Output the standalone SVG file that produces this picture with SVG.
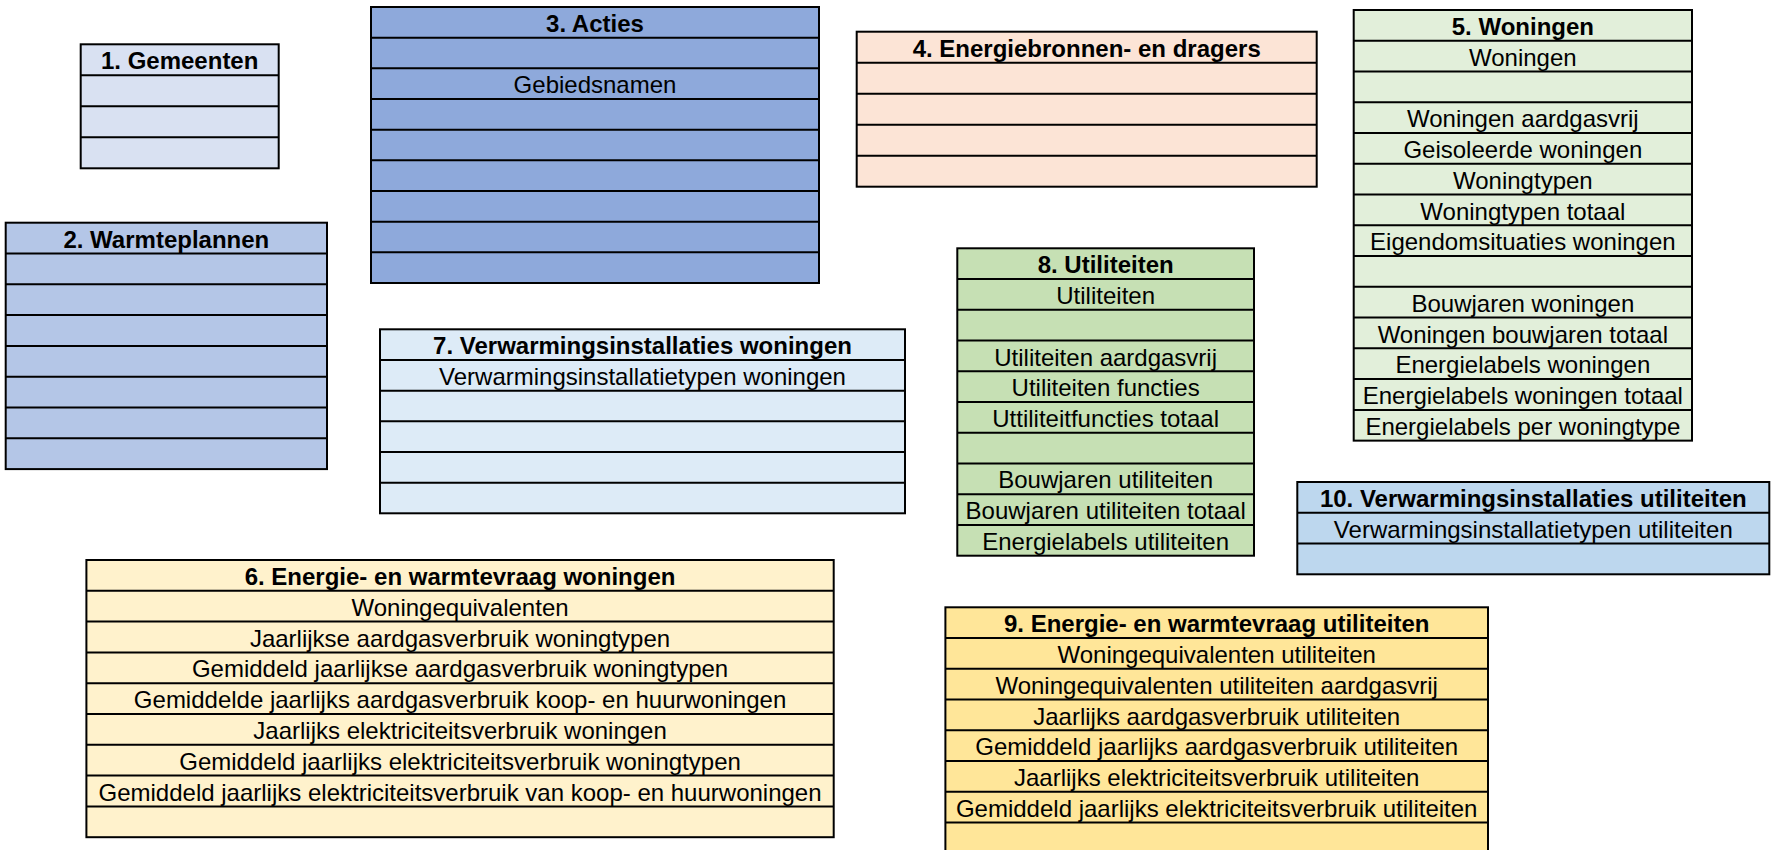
<svg xmlns="http://www.w3.org/2000/svg" width="1775" height="850" viewBox="0 0 1775 850">
<style>
.box{stroke:#000;stroke-width:2}
.sep{stroke:#000;stroke-width:2}
text{font-family:"Liberation Sans",Arial,sans-serif;font-size:24px;fill:#000;text-anchor:middle}
.t{font-weight:bold}
</style>
<rect x="0" y="0" width="1775" height="850" fill="#fff"/>
<g id="connectors"/>

<g id="n1">
<rect class="box" x="80.7" y="44.3" width="198" height="124" fill="#D9E1F2"/>
<path class="sep" d="M80.7 75.3H278.7M80.7 106.3H278.7M80.7 137.3H278.7"/>
<text class="t" x="179.7" y="69.3">1. Gemeenten</text>
</g>

<g id="n2">
<rect class="box" x="5.7" y="222.7" width="321.3" height="246.4" fill="#B4C6E7"/>
<path class="sep" d="M5.7 253.5H327M5.7 284.3H327M5.7 315.1H327M5.7 345.9H327M5.7 376.7H327M5.7 407.5H327M5.7 438.3H327"/>
<text class="t" x="166.35" y="247.7">2. Warmteplannen</text>
</g>

<g id="n3">
<rect class="box" x="371" y="7" width="448" height="276" fill="#8EA9DB"/>
<path class="sep" d="M371 37.7H819M371 68.3H819M371 99H819M371 129.7H819M371 160.3H819M371 191H819M371 221.7H819M371 252.3H819"/>
<text class="t" x="595" y="32">3. Acties</text>
<text x="595" y="93.3">Gebiedsnamen</text>
</g>

<g id="n4">
<rect class="box" x="856.7" y="31.7" width="460" height="155" fill="#FCE4D6"/>
<path class="sep" d="M856.7 62.7H1316.7M856.7 93.7H1316.7M856.7 124.7H1316.7M856.7 155.7H1316.7"/>
<text class="t" x="1086.7" y="56.7">4. Energiebronnen- en dragers</text>
</g>

<g id="n5">
<rect class="box" x="1353.7" y="10" width="338.3" height="430.64" fill="#E2EFDA"/>
<path class="sep" d="M1353.7 40.76H1692M1353.7 71.52H1692M1353.7 102.28H1692M1353.7 133.04H1692M1353.7 163.8H1692M1353.7 194.56H1692M1353.7 225.32H1692M1353.7 256.08H1692M1353.7 286.84H1692M1353.7 317.6H1692M1353.7 348.36H1692M1353.7 379.12H1692M1353.7 409.88H1692"/>
<text class="t" x="1522.85" y="35">5. Woningen</text>
<text x="1522.85" y="65.76">Woningen</text>
<text x="1522.85" y="127.28">Woningen aardgasvrij</text>
<text x="1522.85" y="158.04">Geisoleerde woningen</text>
<text x="1522.85" y="188.8">Woningtypen</text>
<text x="1522.85" y="219.56">Woningtypen totaal</text>
<text x="1522.85" y="250.32">Eigendomsituaties woningen</text>
<text x="1522.85" y="311.84">Bouwjaren woningen</text>
<text x="1522.85" y="342.6">Woningen bouwjaren totaal</text>
<text x="1522.85" y="373.36">Energielabels woningen</text>
<text x="1522.85" y="404.12">Energielabels woningen totaal</text>
<text x="1522.85" y="434.88">Energielabels per woningtype</text>
</g>

<g id="n6">
<rect class="box" x="86.4" y="560" width="747.3" height="277.2" fill="#FFF2CC"/>
<path class="sep" d="M86.4 590.8H833.7M86.4 621.6H833.7M86.4 652.4H833.7M86.4 683.2H833.7M86.4 714H833.7M86.4 744.8H833.7M86.4 775.6H833.7M86.4 806.4H833.7"/>
<text class="t" x="460.05" y="585">6. Energie- en warmtevraag woningen</text>
<text x="460.05" y="615.8">Woningequivalenten</text>
<text x="460.05" y="646.6">Jaarlijkse aardgasverbruik woningtypen</text>
<text x="460.05" y="677.4">Gemiddeld jaarlijkse aardgasverbruik woningtypen</text>
<text x="460.05" y="708.2">Gemiddelde jaarlijks aardgasverbruik koop- en huurwoningen</text>
<text x="460.05" y="739">Jaarlijks elektriciteitsverbruik woningen</text>
<text x="460.05" y="769.8">Gemiddeld jaarlijks elektriciteitsverbruik woningtypen</text>
<text x="460.05" y="800.6">Gemiddeld jaarlijks elektriciteitsverbruik van koop- en huurwoningen</text>
</g>

<g id="n7">
<rect class="box" x="380" y="329.3" width="525" height="184" fill="#DDEBF7"/>
<path class="sep" d="M380 359.97H905M380 390.63H905M380 421.3H905M380 451.97H905M380 482.63H905"/>
<text class="t" x="642.5" y="354.3">7. Verwarmingsinstallaties woningen</text>
<text x="642.5" y="384.97">Verwarmingsinstallatietypen woningen</text>
</g>

<g id="n8">
<rect class="box" x="957.3" y="248.3" width="296.7" height="307.4" fill="#C6E0B4"/>
<path class="sep" d="M957.3 279.04H1254M957.3 309.78H1254M957.3 340.52H1254M957.3 371.26H1254M957.3 402H1254M957.3 432.74H1254M957.3 463.48H1254M957.3 494.22H1254M957.3 524.96H1254"/>
<text class="t" x="1105.65" y="273.3">8. Utiliteiten</text>
<text x="1105.65" y="304.04">Utiliteiten</text>
<text x="1105.65" y="365.52">Utiliteiten aardgasvrij</text>
<text x="1105.65" y="396.26">Utiliteiten functies</text>
<text x="1105.65" y="427">Uttiliteitfuncties totaal</text>
<text x="1105.65" y="488.48">Bouwjaren utiliteiten</text>
<text x="1105.65" y="519.22">Bouwjaren utiliteiten totaal</text>
<text x="1105.65" y="549.96">Energielabels utiliteiten</text>
</g>

<g id="n9">
<rect class="box" x="945.4" y="607.3" width="542.6" height="246" fill="#FFE699"/>
<path class="sep" d="M945.4 638.05H1488M945.4 668.8H1488M945.4 699.55H1488M945.4 730.3H1488M945.4 761.05H1488M945.4 791.8H1488M945.4 822.55H1488"/>
<text class="t" x="1216.7" y="632.3">9. Energie- en warmtevraag utiliteiten</text>
<text x="1216.7" y="663.05">Woningequivalenten utiliteiten</text>
<text x="1216.7" y="693.8">Woningequivalenten utiliteiten aardgasvrij</text>
<text x="1216.7" y="724.55">Jaarlijks aardgasverbruik utiliteiten</text>
<text x="1216.7" y="755.3">Gemiddeld jaarlijks aardgasverbruik utiliteiten</text>
<text x="1216.7" y="786.05">Jaarlijks elektriciteitsverbruik utiliteiten</text>
<text x="1216.7" y="816.8">Gemiddeld jaarlijks elektriciteitsverbruik utiliteiten</text>
</g>

<g id="n10">
<rect class="box" x="1297.3" y="482" width="472" height="92.3" fill="#BDD7EE"/>
<path class="sep" d="M1297.3 512.77H1769.3M1297.3 543.54H1769.3"/>
<text class="t" x="1533.3" y="507">10. Verwarmingsinstallaties utiliteiten</text>
<text x="1533.3" y="537.77">Verwarmingsinstallatietypen utiliteiten</text>
</g>
</svg>
